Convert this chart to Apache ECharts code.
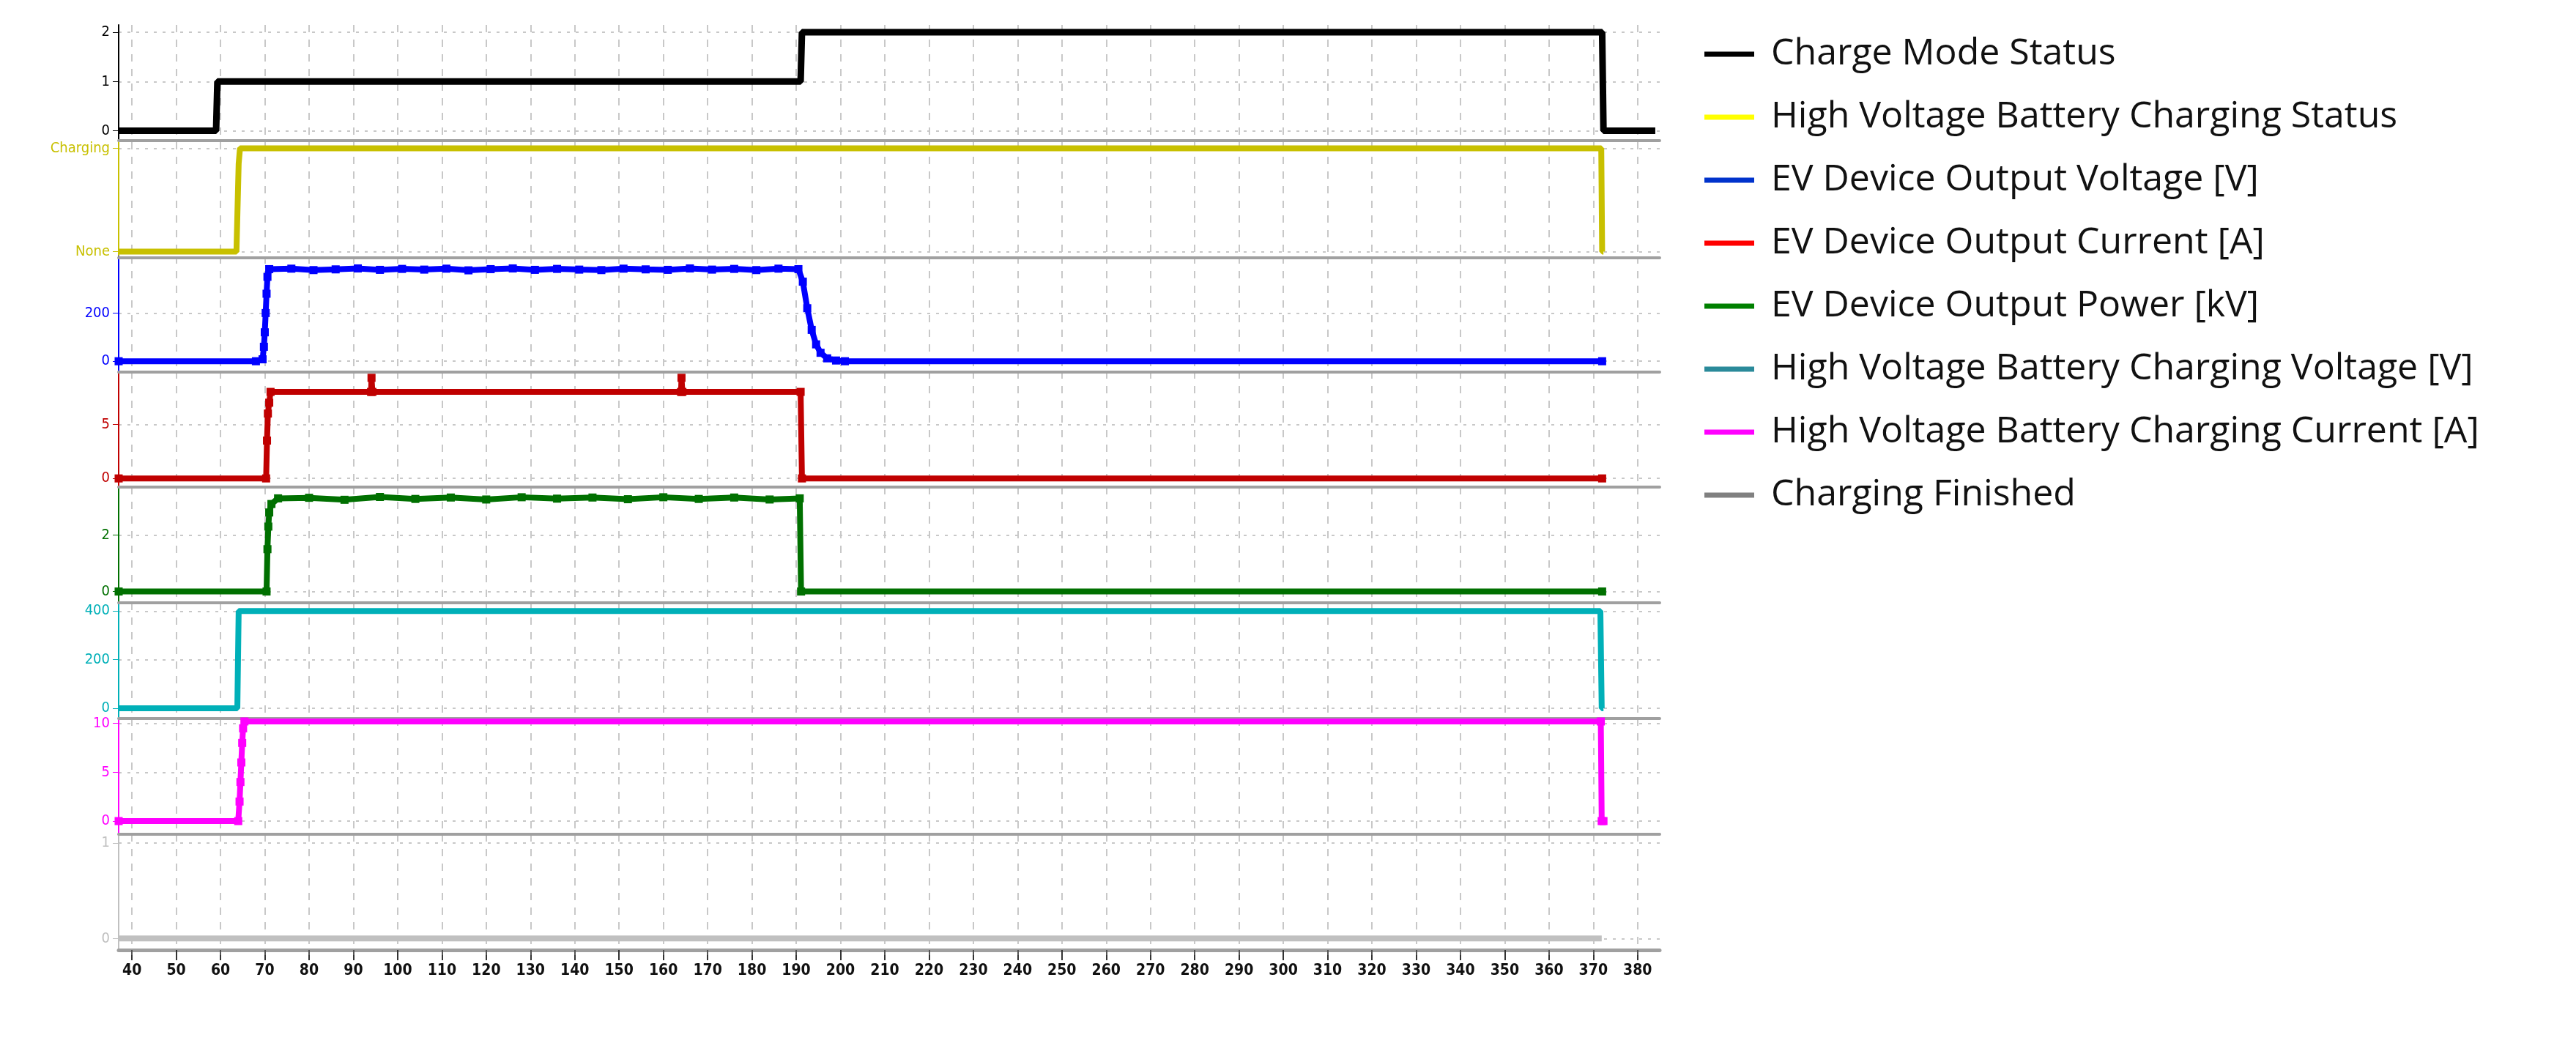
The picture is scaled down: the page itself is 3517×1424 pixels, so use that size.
<!DOCTYPE html>
<html>
<head>
<meta charset="utf-8">
<script src="https://cdn.jsdelivr.net/npm/echarts@6/dist/echarts.min.js"></script>
<style>html,body{margin:0;background:#fff}#main{width:3517px;height:1424px}</style>
</head>
<body>
<div id="main"></div>
<script>
// x ticks every 10 s
var xTicks = [40,50,60,70,80,90,100,110,120,130,140,150,160,170,180,190,200,210,220,230,240,250,260,270,280,290,300,310,320,330,340,350,360,370,380];

var chargeMode = [[37,0],[59,0],[59.3,1],[191,1],[191.3,2],[372,2],[372.3,0],[384,0]];
var hvStatus = [[37,0],[58.8,0],[59.6,0],[63.6,0],[64.1,0.85],[64.4,1],[371.8,1],[372,0],[372.3,0]];
var evVoltage = [[37,0],[68,0],[69.5,8],[69.8,60],[70,120],[70.2,200],[70.4,280],[70.6,350],[71,382],
  [76,384],[81,378],[86,381],[91,385],[96,379],[101,383],[106,380],[111,384],[116,377],[121,382],
  [126,385],[131,379],[136,383],[141,380],[146,378],[151,384],[156,381],[161,379],[166,385],
  [171,380],[176,383],[181,378],[186,384],[190.5,382],[191.5,330],[192.5,220],[193.5,130],
  [194.5,70],[195.5,35],[197,12],[199,3],[201,0],[372,0]];
var evCurrent = [[37,0],[70.3,0],[70.5,3.5],[70.7,6],[71,7],[71.3,8],[94,8],[94.1,9.3],[94.3,8],
  [164,8],[164.1,9.3],[164.3,8],[191,8],[191.3,0],[372,0]];
var evPower = [[37,0],[70.4,0],[70.6,1.5],[70.8,2.3],[71,2.8],[71.5,3.1],[73,3.3],[80,3.32],[88,3.25],
  [96,3.35],[104,3.28],[112,3.33],[120,3.26],[128,3.34],[136,3.29],[144,3.33],[152,3.27],[160,3.34],
  [168,3.28],[176,3.33],[184,3.26],[190.8,3.3],[191.1,0],[372,0]];
var hvVoltage = [[37,0],[63.8,0],[64.1,400],[371.6,400],[371.9,0],[372.3,0]];
var hvCurrent = [[37,0],[64,0],[64.3,2],[64.5,4],[64.7,6],[64.9,8],[65.1,9.5],[65.4,10.2],[371.7,10.2],[371.9,0],[372.3,0]];
var chgFinished = [[37,0],[58.9,0],[59.4,0],[371.9,0]];

var names = ['Charge Mode Status','High Voltage Battery Charging Status','EV Device Output Voltage [V]',
  'EV Device Output Current [A]','EV Device Output Power [kV]','High Voltage Battery Charging Voltage [V]',
  'High Voltage Battery Charging Current [A]','Charging Finished'];
var lineColors = ['#000000','#c8c000','#0000ff','#c00000','#007000','#00b0b8','#ff00ff','#c0c0c0'];
var legendColors = ['#000000','#ffff00','#0033cc','#ff0000','#008000','#2a8a9a','#ff00ff','#808080'];
var allData = [chargeMode,hvStatus,evVoltage,evCurrent,evPower,hvVoltage,hvCurrent,chgFinished];
var yMin = [-0.2,-0.06,-45,-0.8,-0.4,-42,-1.35,-0.12];
var yMax = [2.15,1.06,435,9.9,3.7,434,10.5,1.09];
var yLabels = [[0,1,2],[0,1],[0,200],[0,5],[0,2],[0,200,400],[0,5,10],[0,1]];
var withMarks = [false,false,true,true,true,false,true,false];

var tops = [34,194,350,507,665,823,981,1139];
var panelH = 158;
var grids = [], xAxes = [], yAxes = [], series = [];
for (var i = 0; i < 8; i++) {
  var last = i === 7;
  grids.push({left:162, right:1251, top:tops[i], height:panelH});
  xAxes.push({
    type:'value', gridIndex:i, min:37, max:385,
    axisLine:{show:true, onZero:false, lineStyle:{color:'#a0a0a0', width:last?5:4}},
    axisTick:{show:last, customValues:xTicks, length:14, lineStyle:{color:'#333', width:2}},
    minorTick:{show:last, splitNumber:5, length:7, lineStyle:{color:'#555', width:2}},
    axisLabel:{show:last, customValues:xTicks, fontSize:21, color:'#111', fontWeight:'bold', margin:18, fontFamily:'DejaVu Sans Condensed'},
    splitLine:{show:true, lineStyle:{color:'#c8c8c8', type:[10,10], width:2}}
  });
  yAxes.push({
    type:'value', gridIndex:i, min:yMin[i], max:yMax[i],
    axisLine:{show:true, lineStyle:{color:lineColors[i], width:2}},
    axisTick:{show:true, customValues:yLabels[i], length:8, lineStyle:{color:lineColors[i]}},
    axisLabel:{customValues:yLabels[i], fontSize:20, color:lineColors[i], fontFamily:'DejaVu Sans Condensed', margin:12,
      formatter: i === 1 ? function (v) { return v === 1 ? 'Charging' : 'None'; } : null},
    splitLine:{show:true, lineStyle:{color:'#c8c8c8', type:[4,8], width:2}}
  });
  series.push({
    name:names[i], type:'line', xAxisIndex:i, yAxisIndex:i, data:allData[i],
    color:lineColors[i], showSymbol:withMarks[i], symbol:'rect', symbolSize:11,
    lineStyle:{width:i === 0 ? 9 : 8, color:lineColors[i]}, animation:false, z:3
  });
}

var chart = echarts.init(document.getElementById('main'));
chart.setOption({
  backgroundColor:'#fff',
  animation:false,
  legend:{
    orient:'vertical', left:2322, top:44, itemGap:36, itemWidth:68, itemHeight:7,
    icon:'rect',
    textStyle:{fontSize:50, color:'#111', fontFamily:'Open Sans', padding:[0,0,0,18]},
    data:names.map(function (n, k) { return {name:n, itemStyle:{color:legendColors[k]}}; })
  },
  grid:grids, xAxis:xAxes, yAxis:yAxes, series:series
});
</script>
</body>
</html>
